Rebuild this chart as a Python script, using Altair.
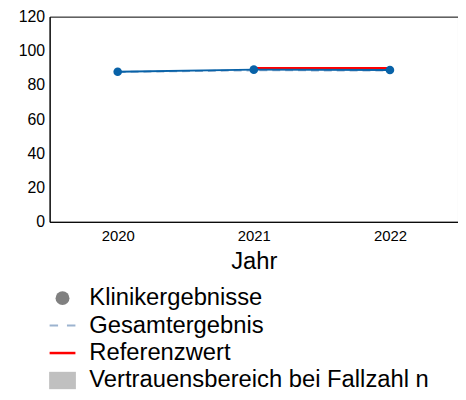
import altair as alt
import pandas as pd

years = ["2020", "2021", "2022"]
klinik = [87.8, 89.0, 88.8]
gesamt = [87.6, 88.6, 88.5]
referenz = [None, 90.0, 90.0]

legend_labels = ["Klinikergebnisse", "Gesamtergebnis", "Referenzwert",
                 "Vertrauensbereich bei Fallzahl n"]
legend_colors = ["#808080", "#9cb3cf", "#ff0000", "#c0c0c0"]
legend_shapes = [
    "circle",
    "M-1.86,-0.14H-0.64V0.14H-1.86ZM0.64,-0.14H1.86V0.14H0.64Z",
    "M-1.86,-0.18H1.86V0.18H-1.86Z",
    "M-1.93,-1.25H1.93V1.25H-1.93Z",
]

FONT = "Liberation Sans"
BLUE = "#0862a8"

df = pd.DataFrame({"Jahr": years, "klinik": klinik, "gesamt": gesamt, "referenz": referenz})
leg_df = pd.DataFrame({"cat": legend_labels})

x_enc = alt.X("Jahr:N", sort=years, title="Jahr",
              axis=alt.Axis(labelAngle=0, labelFontSize=15, ticks=False, labelPadding=7,
                            titleFontSize=24, titlePadding=6, labelFont=FONT, titleFont=FONT,
                            domainColor="black", titleFontWeight="normal", titleColor="black",
                            labelColor="black"))
y_scale = alt.Scale(domain=[0, 120], nice=False)
y_axis = alt.Axis(values=[0, 20, 40, 60, 80, 100, 120], ticks=False, labelFontSize=16,
                  labelPadding=5, grid=False, title=None, labelFont=FONT,
                  domainColor="black", labelColor="black")

base = alt.Chart(df)

gesamt_line = base.mark_line(color="#9cb3cf", strokeWidth=2, strokeDash=[8, 5]).encode(
    x=x_enc, y=alt.Y("gesamt:Q", scale=y_scale, axis=y_axis))
ref_line = base.mark_line(color="#ff0000", strokeWidth=2).encode(
    x=x_enc, y=alt.Y("referenz:Q", scale=y_scale, axis=y_axis))
klinik_line = base.mark_line(color=BLUE, strokeWidth=2).encode(
    x=x_enc, y=alt.Y("klinik:Q", scale=y_scale, axis=y_axis))
klinik_pts = base.mark_circle(color=BLUE, size=75, opacity=1).encode(
    x=x_enc, y=alt.Y("klinik:Q", scale=y_scale, axis=y_axis))

leg = alt.Legend(orient="none", legendX=1, legendY=272, title=None, labelFontSize=24,
                 labelFont=FONT, labelColor="black", symbolSize=196, labelOffset=15,
                 rowPadding=3.7, padding=0, labelLimit=500, symbolStrokeWidth=0,
                 symbolOpacity=1)
legend_layer = alt.Chart(leg_df).mark_point(filled=True, opacity=1).encode(
    color=alt.Color("cat:N", scale=alt.Scale(domain=legend_labels, range=legend_colors), legend=leg),
    shape=alt.Shape("cat:N", scale=alt.Scale(domain=legend_labels, range=legend_shapes), legend=leg),
).transform_filter("false")

chart = alt.layer(gesamt_line, ref_line, klinik_line, klinik_pts, legend_layer).properties(
    width=412, height=207,
    background="white",
    autosize=alt.AutoSizeParams(type="none"),
    padding={"left": 42, "top": 7, "right": 0, "bottom": 170},
).configure_view(stroke="black", strokeWidth=1)

chart.save("out.html", embed_options={"renderer": "svg", "actions": False})
